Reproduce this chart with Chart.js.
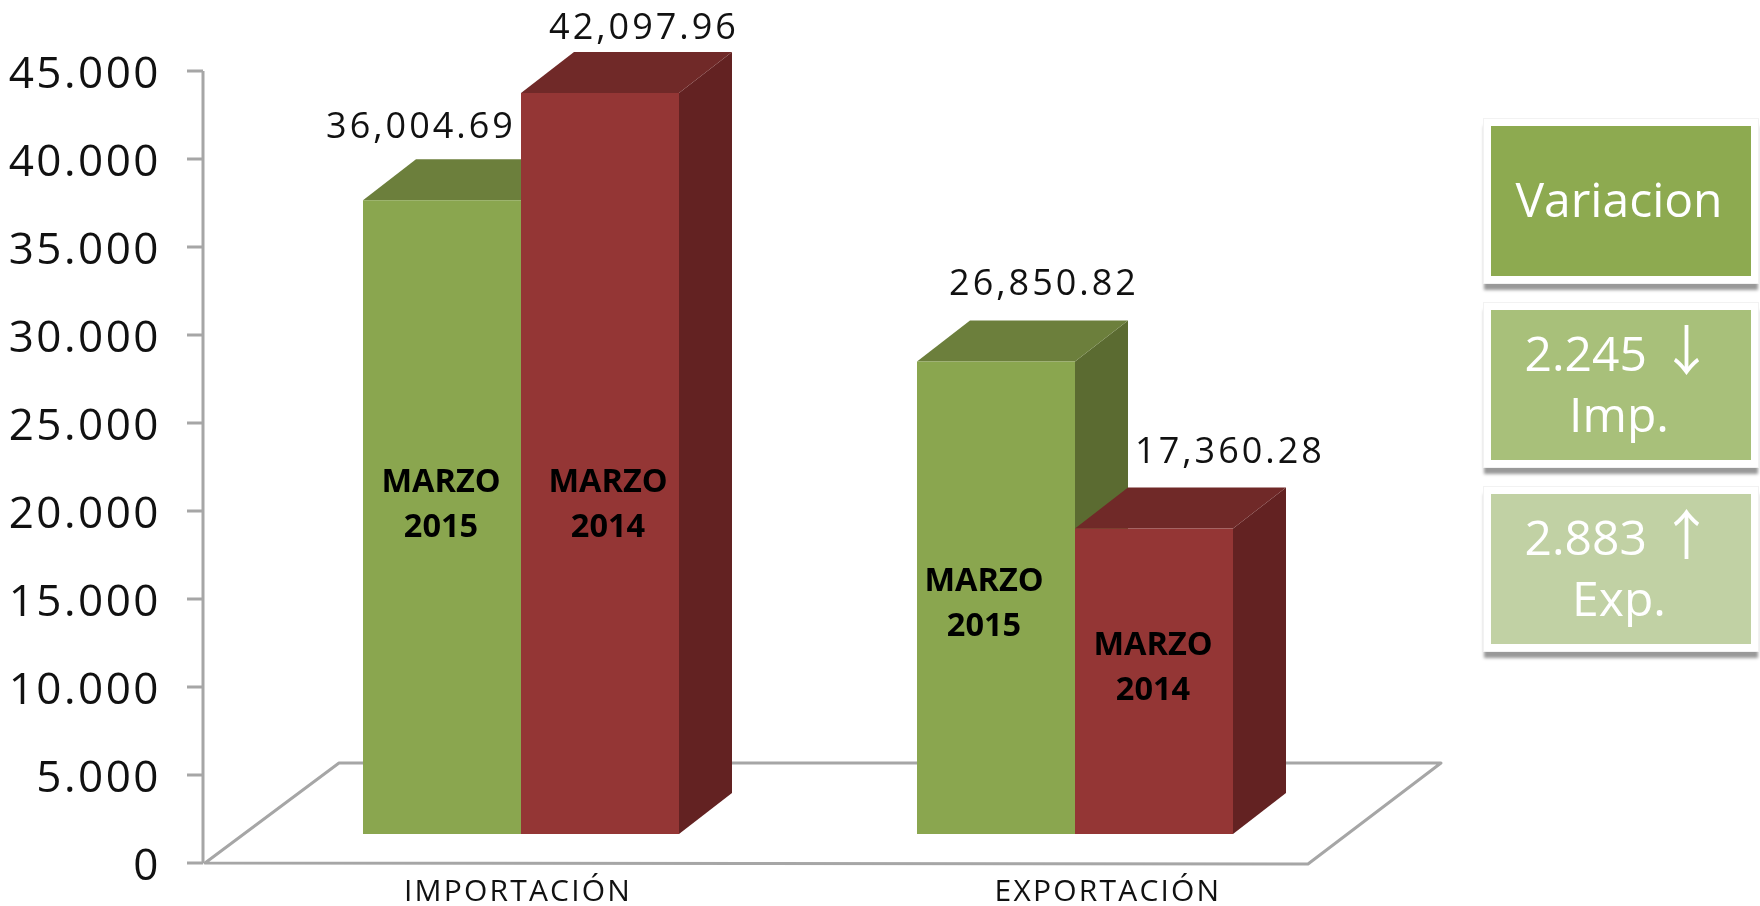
<!DOCTYPE html>
<html>
<head>
<meta charset="utf-8">
<script src="https://cdn.jsdelivr.net/npm/chart.js@4"></script>
<style>
html,body{margin:0;padding:0;background:#fff;overflow:hidden}
#wrap{position:relative;width:1760px;height:906px}
.box{position:absolute;left:1491px;width:260px;height:150px;display:flex;flex-direction:column;align-items:center;justify-content:center;color:#fff;font-family:"Open Sans",sans-serif;font-size:48px;line-height:61px;box-sizing:border-box;padding:0 4px 6px 0;outline:7px solid #fff;box-shadow:0 0 0 8px #f2f2f2,0 7px 3px 7px #999}
.box span{font-family:"Noto Sans CJK JP",sans-serif;font-size:54px;line-height:54px}
</style>
</head>
<body>
<div id="wrap">
<canvas id="c" width="1760" height="906"></canvas>
<div class="box" style="top:126px;background:#8DAA50">Variacion</div>
<div class="box" style="top:310px;background:#A8C07A"><div>2.245 <span>↓</span></div><div>Imp.</div></div>
<div class="box" style="top:494px;background:#C1D1A4"><div>2.883 <span>↑</span></div><div>Exp.</div></div>
</div>
<script>
const categories = ['IMPORTACIÓN', 'EXPORTACIÓN'];
const seriesNames = ['MARZO 2015', 'MARZO 2014'];
const marzo2015 = [36004.69, 26850.82];
const marzo2014 = [42097.96, 17360.28];
const yTickLabels = ['0','5.000','10.000','15.000','20.000','25.000','30.000','35.000','40.000','45.000'];

const GREEN = {front:'#8AA64F', top:'#6C7F3C', side:'#5B6B31'};
const RED   = {front:'#943635', top:'#702928', side:'#632222'};
const DEPTH = {dx:53, dy:41};
const AXIS_X = 203, TICK_LEN = 16;
const FLOOR = [[205,863],[339,763],[1441,763],[1308,864]];
// hand placed offsets for the annotations, as they sit in the picture
const valueOffsets = [[[-21,-73],[48,-77]],[[44,-64],[76,-76]]]; // [dataset][category]
const inBarOffsets = [[[-1,304],[-12,242]],[[8,412],[-1,139]]];
const catLabelCenters = [518,1108];

const deco = {
  id:'deco',
  beforeDraw(chart){
    const ctx=chart.ctx, y=chart.scales.y;
    ctx.letterSpacing='2.5px';
    ctx.save();
    ctx.letterSpacing='0px';
    ctx.strokeStyle='#A6A6A6'; ctx.lineWidth=3;
    ctx.beginPath();
    ctx.moveTo(AXIS_X,y.getPixelForValue(45000)); ctx.lineTo(AXIS_X,y.getPixelForValue(0));
    y.ticks.forEach(t=>{const p=y.getPixelForValue(t.value);ctx.moveTo(AXIS_X-TICK_LEN,p);ctx.lineTo(AXIS_X,p);});
    ctx.stroke();
    ctx.beginPath();
    FLOOR.forEach((p,i)=>i?ctx.lineTo(p[0],p[1]):ctx.moveTo(p[0],p[1]));
    ctx.closePath();
    ctx.lineJoin='round';
    ctx.stroke();
    ctx.restore();
  },
  beforeDatasetDraw(){ return false; },
  afterDatasetsDraw(chart){
    const ctx=chart.ctx;
    ctx.save();
    ctx.letterSpacing='0px';
    chart.data.datasets.forEach((ds,i)=>{
      const meta=chart.getDatasetMeta(i), col=i?RED:GREEN;
      meta.data.forEach(el=>{
        const L=el.x-el.width/2,R=el.x+el.width/2,T=el.y,B=el.base;
        ctx.fillStyle=col.side;
        ctx.beginPath();ctx.moveTo(R,T);ctx.lineTo(R+DEPTH.dx,T-DEPTH.dy);ctx.lineTo(R+DEPTH.dx,B-DEPTH.dy);ctx.lineTo(R,B);ctx.closePath();ctx.fill();
        ctx.fillStyle=col.top;
        ctx.beginPath();ctx.moveTo(L,T);ctx.lineTo(L+DEPTH.dx,T-DEPTH.dy);ctx.lineTo(R+DEPTH.dx,T-DEPTH.dy);ctx.lineTo(R,T);ctx.closePath();ctx.fill();
        el.draw(ctx);
      });
    });
    chart.data.datasets.forEach((ds,i)=>{
      const meta=chart.getDatasetMeta(i);
      meta.data.forEach((el,j)=>{
        ctx.fillStyle='#111';
        ctx.textAlign='center';ctx.textBaseline='middle';
        ctx.font='400 36px "Open Sans"';
        ctx.letterSpacing='3px';
        const [vx,vy]=valueOffsets[i][j];
        const txt=ds.data[j].toLocaleString('en-US',{minimumFractionDigits:2,maximumFractionDigits:2});
        ctx.fillText(txt,el.x+vx,el.y+vy);
        ctx.letterSpacing='0px';
        ctx.fillStyle='#000';
        ctx.font='700 32.5px "Open Sans"';
        const [bx,by]=inBarOffsets[i][j];
        const parts=ds.label.split(' ');
        ctx.fillText(parts[0],el.x+bx,el.y+by-22);
        ctx.fillText(parts[1],el.x+bx,el.y+by+23);
      });
    });
    ctx.fillStyle='#111';
    ctx.font='400 30px "Open Sans"';
    ctx.letterSpacing='2.2px';
    chart.scales.x.getLabels().forEach((t,i)=>ctx.fillText(t,catLabelCenters[i],892));
    ctx.restore();
  }
};

new Chart(document.getElementById('c'),{
  type:'bar',
  data:{labels:categories,datasets:[
    {label:seriesNames[0],data:marzo2015,backgroundColor:GREEN.front,yAxisID:'y2',categoryPercentage:0.5704,barPercentage:1},
    {label:seriesNames[1],data:marzo2014,backgroundColor:RED.front,yAxisID:'y2',categoryPercentage:0.5704,barPercentage:1}
  ]},
  plugins:[deco],
  options:{
    responsive:false,animation:false,
    layout:{padding:{top:71,right:408,bottom:0,left:0}},
    plugins:{legend:{display:false},tooltip:{enabled:false},title:{display:false}},
    scales:{
      x:{type:'category',offset:true,grid:{display:false},border:{display:false},
        ticks:{display:false},afterFit(s){s.height=43;s.paddingLeft=0;s.paddingRight=0;}},
      y:{min:0,max:45000,position:'left',grid:{display:false},border:{display:false},
        afterFit(s){s.width=244;s.paddingTop=0;s.paddingBottom=0;},
        ticks:{stepSize:5000,padding:75,labelOffset:4,color:'#111',font:{family:'"Open Sans"',size:44,weight:'400'},
          callback:(v,i)=>yTickLabels[i]}},
      y2:{display:false,min:-1648,max:43352}
    }
  }
});
</script>
</body>
</html>
